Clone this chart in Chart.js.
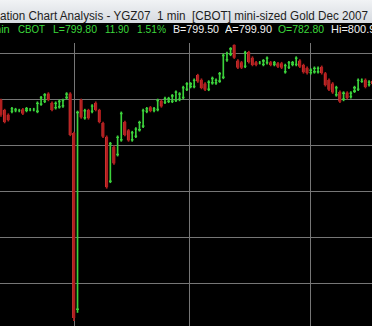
<!DOCTYPE html>
<html><head><meta charset="utf-8">
<script src="https://cdn.jsdelivr.net/npm/chart.js@4"></script>
<style>
html,body{margin:0;padding:0;background:#000;width:372px;height:326px;overflow:hidden;position:relative;}
#title{position:absolute;left:0;top:0;width:372px;height:23px;background:linear-gradient(#f1f3f5,#d6dae0);overflow:hidden;}
#title span{position:absolute;top:10px;font:12px "Liberation Sans",Arial,sans-serif;line-height:12px;color:#1e1e1e;white-space:pre;transform-origin:0 0;}
#quote span{position:absolute;top:24px;font:11px "Liberation Sans",Arial,sans-serif;line-height:11px;white-space:pre;transform-origin:0 0;}
.g{color:#3cd83c}.w{color:#f2f2f2}
#wrap{position:absolute;left:0;top:43px;width:372px;height:283px;}
</style></head>
<body>
<div id="title"><span style="left:0px" data-w="368">ation Chart Analysis - YGZ07  1 min  [CBOT] mini-sized Gold Dec 2007</span></div>
<div id="quote">
<span class="g" style="left:-8px">min</span><span class="g" style="left:18px" data-w="27">CBOT</span><span class="g" style="left:53px" data-w="44">L=799.80</span><span class="g" style="left:105px" data-w="24">11.90</span><span class="g" style="left:137px" data-w="29">1.51%</span><span class="w" style="left:173px" data-w="46">B=799.50</span><span class="w" style="left:225px" data-w="47">A=799.90</span><span class="g" style="left:278px" data-w="46">O=782.80</span><span class="w" style="left:331px">Hi=800.9</span>
</div>
<div id="wrap"><canvas id="c" width="372" height="283" style="width:372px;height:283px;display:block"></canvas></div>
<script>
document.querySelectorAll('span[data-w]').forEach(s => {
  const w = s.getBoundingClientRect().width;
  const t = +s.dataset.w;
  if (w > 0) s.style.transform = 'scaleX(' + (t / w) + ')';
});

const timeGrid = [4.7, 35.4, 68.3, 101.5];
const priceGrid = [775, 780, 785, 790, 795, 800];

const opens = [
794.9,793.8,793.3,793.6,793.7,793.7,793.9,793.7,793.8,793.8,
793.6,794.4,794.7,795.6,794.6,794.0,794.1,794.2,795.1,795.6,
791.3,772.1,794.9,792.9,793.8,793.6,794.6,793.8,792.4,790.9,
786.0,789.8,788.9,790.5,792.5,791.6,790.5,790.9,791.6,792.0,
793.6,794.1,793.7,793.8,794.8,794.6,794.7,794.7,794.8,794.9,
795.1,796.0,796.3,796.3,797.6,797.1,796.7,796.0,796.7,796.7,
796.9,797.3,799.2,799.8,800.9,799.2,799.0,798.5,800.1,799.5,
799.0,798.9,798.7,798.9,799.0,798.7,798.9,798.9,797.9,798.4,
798.7,798.7,799.2,798.7,798.4,797.8,797.9,797.9,798.5,797.8,
797.1,796.7,795.4,795.8,794.9,795.7,795.2,795.8,796.0,796.9,
797.1,796.5,797.0];
const highs = [
795.0,793.9,793.4,794.1,794.0,793.9,794.0,794.1,794.0,794.0,
794.7,795.3,795.6,795.7,794.7,794.7,794.9,795.0,795.7,795.7,
791.4,793.7,795.0,793.9,793.9,794.4,794.7,793.9,792.5,791.0,
790.3,789.9,791.0,793.6,792.6,791.7,791.5,791.9,792.6,793.9,
794.1,794.2,794.1,795.0,794.9,795.2,795.2,795.5,795.9,795.7,
796.4,796.8,796.8,797.2,797.7,797.2,796.8,797.0,797.4,797.2,
797.9,799.9,800.1,800.6,800.9,799.3,799.1,800.2,800.2,799.6,
799.1,799.1,799.3,799.6,799.1,799.1,799.0,799.0,798.8,799.1,
799.1,799.6,799.3,798.8,798.5,798.3,798.5,798.5,798.6,797.9,
797.2,796.8,796.4,795.9,795.8,795.8,795.8,796.4,797.2,797.2,
797.2,797.0,797.1];
const lows = [
793.1,792.4,792.6,793.5,793.6,793.6,793.3,793.6,793.7,793.7,
793.5,794.3,794.6,794.8,793.7,793.9,794.0,794.1,795.0,791.0,
770.9,771.8,792.9,792.8,792.8,793.5,793.7,792.4,790.8,785.3,
785.9,787.9,788.8,790.4,791.0,790.4,790.4,790.8,791.5,791.9,
793.5,793.6,793.6,793.7,794.1,794.5,794.6,794.6,794.7,794.8,
795.0,795.9,796.2,796.2,796.8,796.1,795.9,795.9,796.6,796.6,
796.8,797.2,799.1,799.7,799.4,798.3,798.3,798.4,798.9,798.6,
798.6,798.8,798.6,798.8,798.6,798.6,798.4,798.3,797.8,798.3,
798.6,798.6,798.4,797.8,797.7,797.7,797.8,797.8,797.7,796.4,
795.9,795.6,795.3,794.6,794.8,795.0,795.1,795.7,795.9,796.8,
796.2,796.4,796.5];
const closes = [
793.3,792.5,792.7,794.0,793.9,793.8,793.4,794.0,793.9,793.9,
794.6,795.2,795.5,794.9,793.8,794.6,794.8,794.9,795.6,791.1,
771.2,793.6,793.0,793.8,792.9,794.3,793.8,792.5,790.9,785.4,
790.2,788.0,790.9,793.5,791.1,790.5,791.4,791.8,792.5,793.8,
794.0,793.7,794.0,794.9,794.2,795.1,795.1,795.4,795.8,795.6,
796.3,796.7,796.7,797.1,796.9,796.2,796.0,796.9,797.3,797.1,
797.8,799.8,800.0,800.5,799.5,798.4,798.4,800.1,799.0,798.7,
798.7,799.0,799.2,799.5,798.7,799.0,798.5,798.4,798.7,799.0,
799.0,799.5,798.5,797.9,797.8,798.2,798.4,798.4,797.8,796.5,
796.0,795.7,796.3,794.7,795.7,795.1,795.7,796.3,797.1,797.1,
796.3,796.9,796.6];

const idx = opens.map((_, i) => i);
const up = i => closes[i] >= opens[i];
const GREEN = '#3cd23c', RED = '#b01e1e', RED_EDGE = '#cf3434';

const gridOpts = {color:'#767676', lineWidth:1, drawTicks:false};
new Chart(document.getElementById('c'), {
  type:'bar',
  data:{datasets:[
    {label:'body', data: idx.map(i => ({x:i, y:[opens[i], closes[i]]})),
     barThickness:3, grouped:false, borderSkipped:false,
     backgroundColor: c => up(c.dataIndex) ? 'rgba(0,0,0,0)' : RED,
     borderColor: c => up(c.dataIndex) ? GREEN : RED_EDGE,
     borderWidth: c => up(c.dataIndex) ? {left:0, right:0, top:1, bottom:1} : {left:1, right:0, top:0, bottom:0}},
    {label:'wick', data: idx.map(i => ({x:i, y:[lows[i], highs[i]]})),
     barThickness:1, grouped:false, borderWidth:0,
     backgroundColor: c => up(c.dataIndex) ? GREEN : RED}
  ]},
  options:{
    responsive:false, animation:false, devicePixelRatio:1,
    layout:{padding:0},
    plugins:{legend:{display:false}, tooltip:{enabled:false}},
    scales:{
      x:{type:'linear', min:-0.274, max:101.8, offset:false, grid:gridOpts, border:{display:false},
         ticks:{display:false}, afterBuildTicks: s => { s.ticks = timeGrid.map(v => ({value:v})); }},
      y:{type:'linear', min:770.33, max:801.09, grid:gridOpts, border:{display:false},
         ticks:{display:false}, afterBuildTicks: s => { s.ticks = priceGrid.map(v => ({value:v})); }}
    }
  }
});
</script>
</body></html>
